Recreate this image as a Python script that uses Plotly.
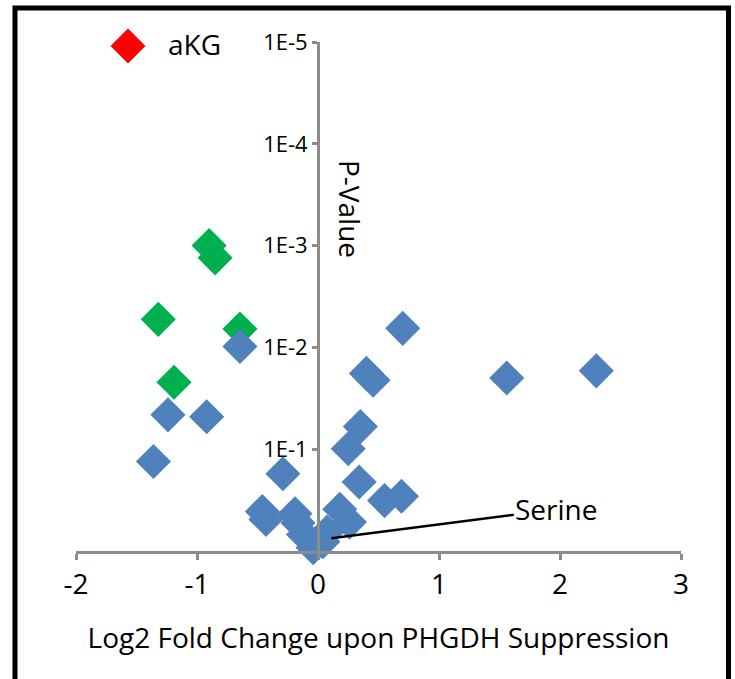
import math
import plotly.graph_objects as go

# ---- data ----
green_x = [-0.90, -0.85, -1.32, -0.645, -1.19]
green_p = [1.0e-3, 1.32e-3, 5.3e-3, 6.6e-3, 0.022]

blue_x = [-0.645, -1.24, -0.92, -1.36, -0.29, -0.46, -0.43, -0.19, -0.165, -0.12,
          -0.04, 0.04, 0.075, 0.18, 0.26, 0.34, 0.55, 0.69, 0.25, 0.35,
          0.40, 0.455, 0.70, 1.56, 2.30]
blue_p = [0.0098, 0.046, 0.048, 0.132, 0.174, 0.41, 0.49, 0.43, 0.53, 0.69,
          0.93, 0.81, 0.65, 0.39, 0.52, 0.21, 0.32, 0.29, 0.099, 0.060,
          0.018, 0.021, 0.0065, 0.020, 0.017]

akg_name = "aKG"
serine_x = 0.11
serine_p = 0.75

x_ticks = [-2, -1, 0, 1, 2, 3]
y_ticks = [1e-1, 1e-2, 1e-3, 1e-4, 1e-5]
y_ticktext = ["1E-1", "1E-2", "1E-3", "1E-4", "1E-5"]

FONT = "Open Sans"
BLUE = "#4F81BD"
GREEN = "#00B050"
RED = "#FF0000"
GRAY = "#8C8C8C"

fig = go.Figure()
fig.add_trace(go.Scatter(x=green_x, y=green_p, mode="markers", showlegend=False,
                         cliponaxis=False,
                         marker=dict(symbol="diamond", size=27, color=GREEN, line=dict(width=0))))
fig.add_trace(go.Scatter(x=blue_x, y=blue_p, mode="markers", showlegend=False,
                         cliponaxis=False,
                         marker=dict(symbol="diamond", size=27, color=BLUE, line=dict(width=0))))

L, R, T, B = 76, 54, 42, 128
W, H = 735, 679
pw, ph = W - L - R, H - T - B

def px2paper_x(px):
    return (px - L) / pw

def px2paper_y(py):
    return (H - B - py) / ph

fig.update_layout(
    width=W, height=H,
    margin=dict(l=L, r=R, t=T, b=B),
    paper_bgcolor="white", plot_bgcolor="white",
    font=dict(family=FONT, color="black"),
    showlegend=False,
    xaxis=dict(range=[-2, 3], tickvals=x_ticks, ticktext=[str(v) for v in x_ticks],
               showgrid=False, zeroline=False, showline=True, linecolor=GRAY, linewidth=3,
               ticks="outside", ticklen=6, tickwidth=3, tickcolor=GRAY,
               tickfont=dict(size=28, family=FONT),
               title=dict(text="Log2 Fold Change upon PHGDH Suppression",
                          font=dict(size=28, family=FONT), standoff=28)),
    yaxis=dict(type="log", range=[0, -5], tickvals=y_ticks, ticktext=y_ticktext,
               anchor="free", position=0.4, side="left",
               showgrid=False, zeroline=False, showline=True, linecolor=GRAY, linewidth=3,
               ticks="outside", ticklen=5, tickwidth=3, tickcolor=GRAY,
               tickfont=dict(size=22, family=FONT)),
)

# P-Value label (rotated)
fig.add_annotation(text="P-Value", xref="paper", yref="paper",
                   x=px2paper_x(350), y=px2paper_y(209), showarrow=False,
                   xanchor="center", yanchor="middle",
                   textangle=90, font=dict(size=28, family=FONT))

# Serine callout
fig.add_annotation(text="Serine", xref="x", yref="y", x=serine_x, y=math.log10(serine_p),
                   showarrow=True, arrowhead=0, arrowwidth=2.5, arrowcolor="black",
                   ax=225, ay=-29, font=dict(size=28, family=FONT))

# legend key for aKG
fig.add_shape(type="path", xref="paper", yref="paper",
              xsizemode="pixel", ysizemode="pixel",
              xanchor=px2paper_x(128), yanchor=px2paper_y(46),
              path="M -17.5,0 L 0,17.5 L 17.5,0 L 0,-17.5 Z",
              fillcolor=RED, line=dict(width=0))
fig.add_annotation(text=akg_name, xref="paper", yref="paper",
                   x=px2paper_x(166), y=px2paper_y(44), xanchor="left", yanchor="middle",
                   showarrow=False, font=dict(size=28, family=FONT))

# outer frame
fig.add_shape(type="rect", xref="paper", yref="paper",
              x0=px2paper_x(15), x1=px2paper_x(728.5), y0=px2paper_y(8), y1=px2paper_y(720),
              line=dict(color="black", width=5), fillcolor="rgba(0,0,0,0)", layer="below")

fig.write_html("out.html")
